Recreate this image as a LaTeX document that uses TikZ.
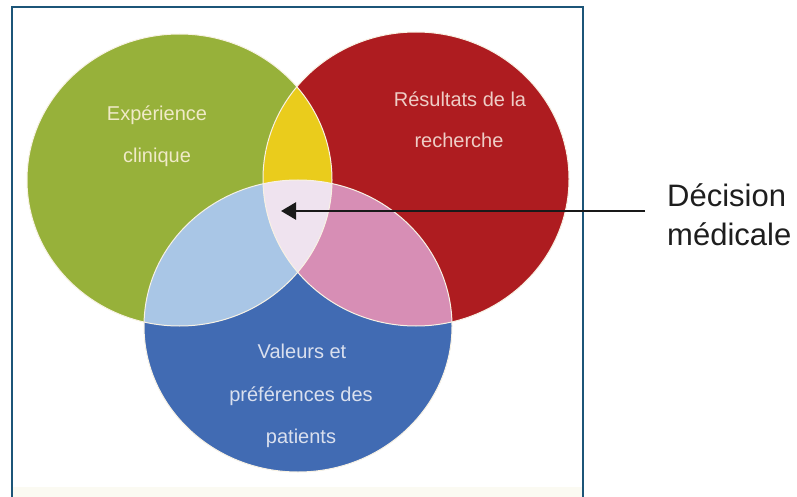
\documentclass[tikz,border=0pt]{standalone}
\usepackage{fontspec}
\setmainfont{Liberation Sans}
\usetikzlibrary{arrows.meta}
\definecolor{cgreen}{RGB}{151,177,58}
\definecolor{cred}{RGB}{174,28,32}
\definecolor{cblue}{RGB}{65,107,179}
\definecolor{cyellow}{RGB}{234,204,28}
\definecolor{clblue}{RGB}{169,198,230}
\definecolor{cpink}{RGB}{215,142,181}
\definecolor{ccenter}{RGB}{239,227,239}
\definecolor{cedge}{RGB}{248,242,228}
\definecolor{cframe}{RGB}{28,85,120}
\definecolor{tgreen}{RGB}{240,234,200}
\definecolor{tred}{RGB}{238,205,198}
\definecolor{tblue}{RGB}{218,224,238}
\definecolor{cband}{RGB}{251,250,242}
\tikzset{
  lbl/.style={inner sep=0pt, anchor=base, font=\fontsize{20}{24}\selectfont},
  side/.style={inner sep=0pt, anchor=base west, text={rgb,255:red,30;green,30;blue,30}, font=\fontsize{31}{36}\selectfont},
  ring/.style={draw=cedge, line width=1pt},
  pointer/.style={draw={rgb,255:red,25;green,25;blue,25}, line width=2.5pt, -{Triangle[length=15pt,width=17pt]}},
  frame/.style={draw=cframe, line width=2pt}
}
\newcommand{\ellG}{(179.5,180) ellipse [x radius=152.5pt, y radius=146pt]}
\newcommand{\ellR}{(416,179) ellipse [x radius=153pt, y radius=147pt]}
\newcommand{\ellB}{(298,326) ellipse [x radius=154pt, y radius=146pt]}
\begin{document}
\begin{tikzpicture}[x=1pt,y=-1pt]
\useasboundingbox (0,0) rectangle (797,497);
\fill[white] (0,0) rectangle (797,497);
\fill[cband] (13,487) rectangle (582,497);
% circles
\fill[cgreen] \ellG;
\fill[cred] \ellR;
\fill[cblue] \ellB;
\begin{scope}
  \clip \ellG;
  \fill[cyellow] \ellR;
  \fill[clblue] \ellB;
\end{scope}
\begin{scope}
  \clip \ellR;
  \fill[cpink] \ellB;
\end{scope}
\begin{scope}
  \clip \ellG;
  \clip \ellR;
  \fill[ccenter] \ellB;
\end{scope}
\path[ring] \ellG;
\path[ring] \ellR;
\path[ring] \ellB;
% frame
\draw[frame] (12,497) -- (12,7) -- (583,7) -- (583,497);
% labels
\node[lbl, text=tgreen] (g1) at (157,121) {Expérience};
\node[lbl, text=tgreen] (g2) at (157,163) {clinique};
\node[lbl, text=tred] (r1) at (460,107) {Résultats de la};
\node[lbl, text=tred] (r2) at (459,148) {recherche};
\node[lbl, text=tblue] (b1) at (302,358) {Valeurs et};
\node[lbl, text=tblue] (b2) at (301,401) {préférences des};
\node[lbl, text=tblue] (b3) at (301,443) {patients};
\node[side] (d1) at (667,207) {Décision};
\node[side] (d2) at (667,245) {médicale};
% arrow
\coordinate (tail) at (645,211);
\coordinate (tip) at (281,211);
\draw[pointer] (tail) -- (tip);
\end{tikzpicture}
\end{document}
